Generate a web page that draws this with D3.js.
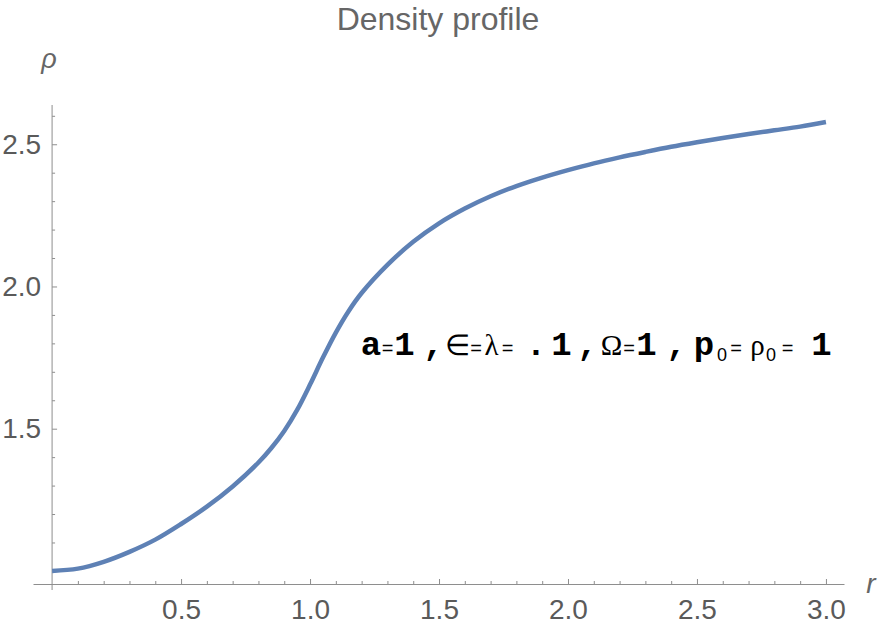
<!DOCTYPE html>
<meta charset="utf-8">
<style>
body { margin: 0; background: #fff; }
svg { display: block; }
.axis text { font-family: "Liberation Sans", Arial, sans-serif; font-size: 28px; fill: #5a5a5a; }
.axis line, .axis path { stroke: #8e8e8e; }
</style>
<svg id="chart" width="881" height="630"></svg>
<script src="https://d3js.org/d3.v7.min.js"></script>
<script>

// density profile rho(r)
var rValues = [0, 0.1, 0.2, 0.3, 0.4, 0.5, 0.6, 0.7, 0.8, 0.85, 0.9, 0.95, 1.0,
  1.05, 1.1, 1.15, 1.2, 1.3, 1.4, 1.5, 1.6, 1.7, 1.8, 1.9, 2.0,
  2.1, 2.2, 2.3, 2.4, 2.5, 2.6, 2.7, 2.8, 2.9, 3.0];
var rhoValues = [1.000, 1.008, 1.032, 1.067, 1.110, 1.165, 1.226, 1.297, 1.381, 1.432, 1.492, 1.566, 1.655,
  1.750, 1.838, 1.914, 1.977, 2.076, 2.157, 2.222, 2.274, 2.317, 2.353, 2.383, 2.409,
  2.433, 2.454, 2.473, 2.491, 2.507, 2.522, 2.536, 2.549, 2.562, 2.578];

var xMajor = [0.5, 1.0, 1.5, 2.0, 2.5, 3.0];
var xMinor = d3.range(1, 31).map(function(i) { return i / 10; }).filter(function(v) { return Math.round(v * 10) % 5 != 0; });
var yMajor = [1.5, 2.0, 2.5];
var yMinor = [1.1, 1.2, 1.3, 1.4, 1.6, 1.7, 1.8, 1.9, 2.1, 2.2, 2.3, 2.4, 2.6];

var svg = d3.select("#chart");

var x = d3.scaleLinear().domain([-0.074, 3.07]).range([33, 844]);
var y = d3.scaleLinear().domain([0.954, 2.638]).range([584, 105]);

var fmt = d3.format(".1f");

// x axis
var gx = svg.append("g").attr("class", "axis").attr("transform", "translate(0," + y.range()[0] + ")");
gx.call(d3.axisBottom(x).tickValues(xMajor).tickFormat(fmt).tickSize(-5).tickSizeOuter(0).tickPadding(15));
gx.append("g").call(d3.axisBottom(x).tickValues(xMinor).tickFormat("").tickSize(-3).tickSizeOuter(0))
  .select(".domain").remove();
gx.selectAll("text").attr("dy", "0.71em");

// y axis
var gy = svg.append("g").attr("class", "axis").attr("transform", "translate(" + x(0) + ",0)");
gy.call(d3.axisLeft(y).tickValues(yMajor).tickFormat(fmt).tickSize(-5).tickSizeOuter(0).tickPadding(11));
gy.append("g").call(d3.axisLeft(y).tickValues(yMinor).tickFormat("").tickSize(-3).tickSizeOuter(0))
  .select(".domain").remove();
gy.select(".domain").remove();
gy.append("line")
  .attr("x1", 0).attr("x2", 0)
  .attr("y1", y.range()[0] + 6).attr("y2", y.range()[1])
  .attr("stroke", "#8e8e8e");

// curve
var line = d3.line()
  .x(function(d, i) { return x(rValues[i]); })
  .y(function(d) { return y(d); })
  .curve(d3.curveCatmullRom);

svg.append("path")
  .datum(rhoValues)
  .attr("d", line)
  .attr("fill", "none")
  .attr("stroke", "#5e81b5")
  .attr("stroke-width", 4.5);

// title + axis labels
svg.append("text")
  .attr("x", 438).attr("y", 30)
  .attr("text-anchor", "middle")
  .attr("font-family", "Liberation Sans, Arial, sans-serif")
  .attr("font-size", 32)
  .attr("fill", "#666")
  .text("Density profile");

svg.append("text")
  .attr("x", 49).attr("y", 68)
  .attr("text-anchor", "middle")
  .attr("font-family", "Liberation Sans, Arial, sans-serif")
  .attr("font-style", "italic")
  .attr("font-size", 27)
  .attr("fill", "#666")
  .text("ρ");

svg.append("text")
  .attr("x", 871).attr("y", 593)
  .attr("text-anchor", "middle")
  .attr("font-family", "Liberation Sans, Arial, sans-serif")
  .attr("font-style", "italic")
  .attr("font-size", 28)
  .attr("fill", "#666")
  .text("r");

// annotation: a=1, ∈=λ=.1, Ω=1, p0=ρ0=1
var mono = "Liberation Mono, Courier New, monospace";
var ser = "Liberation Serif, Times New Roman, serif";
var sans = "Liberation Sans, Arial, sans-serif";
var pieces = [
  ["a", 371, "m"], ["=", 387.5, "e"], ["1", 404.5, "m"], [",", 433.5, "m"],
  ["∈", 457.5, "g"], ["=", 476, "e"], ["λ", 491.5, "g"], ["=", 507.5, "e"],
  [".", 536, "m"], ["1", 561.5, "m"], [",", 587.5, "m"],
  ["Ω", 611.5, "g"], ["=", 629, "e"], ["1", 646.5, "m"], [",", 676.5, "m"],
  ["p", 704, "m"], ["0", 722, "s"], ["=", 736, "e"], ["ρ", 757.5, "g"], ["0", 771, "s"],
  ["=", 787.5, "e"], ["1", 821.5, "m"]
];
var note = svg.append("g");
pieces.forEach(function(p) {
  var t = note.append("text")
    .attr("x", p[1])
    .attr("y", p[2] == "s" ? 361 : 355)
    .attr("text-anchor", "middle")
    .attr("fill", "#000")
    .text(p[0]);
  if (p[2] == "m") t.attr("font-family", mono).attr("font-weight", "bold").attr("font-size", 34);
  if (p[2] == "e") t.attr("font-family", sans).attr("font-size", 20);
  if (p[2] == "g") t.attr("font-family", ser).attr("font-size", 29);
  if (p[2] == "s") t.attr("font-family", sans).attr("font-size", 18);
});

</script>
